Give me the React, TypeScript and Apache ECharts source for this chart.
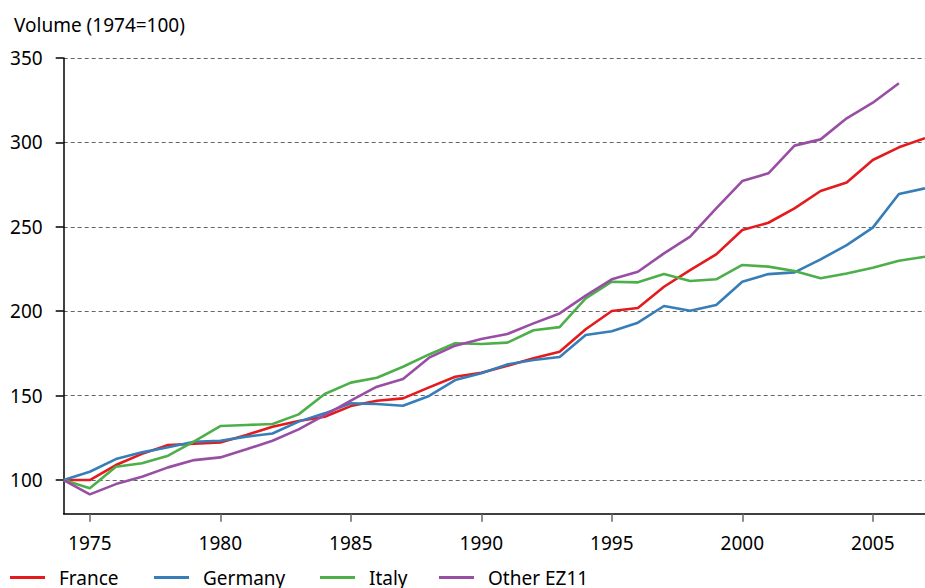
import React, { useEffect, useRef } from "react";
import * as echarts from "echarts";

const years: number[] = [
  1974, 1975, 1976, 1977, 1978, 1979, 1980, 1981, 1982, 1983, 1984, 1985,
  1986, 1987, 1988, 1989, 1990, 1991, 1992, 1993, 1994, 1995, 1996, 1997,
  1998, 1999, 2000, 2001, 2002, 2003, 2004, 2005, 2006, 2007,
];

const france: number[] = [
  100, 100, 108.9, 115.5, 120.7, 121.5, 122.3, 126.7, 131.6, 135, 137.5, 143.8,
  147, 148.4, 154.9, 161.2, 163.6, 167.7, 172.1, 176, 189.3, 200.1, 201.9, 214.5,
  224.4, 233.7, 248.1, 252.4, 260.9, 271.2, 276.3, 289.6, 297.1, 302.5,
];

const germany: number[] = [
  100, 104.9, 112.4, 116.4, 119.4, 122.7, 123.3, 125.7, 127.6, 134.6, 139.5, 145.4,
  145, 144, 149.8, 159.2, 163.2, 168.5, 171.1, 172.9, 185.9, 188.1, 193.2, 203.1,
  200.3, 203.7, 217.5, 222, 223, 230.7, 239.2, 249.5, 269.4, 272.8,
];

const italy: number[] = [
  100, 95.1, 107.9, 109.9, 114.4, 122.9, 132, 132.6, 133.2, 138.9, 151, 157.7,
  160.6, 167.1, 174.4, 181, 180.6, 181.4, 188.7, 190.6, 207.6, 217.5, 217.1, 222,
  217.9, 218.9, 227.4, 226.4, 223.8, 219.5, 222.4, 225.8, 229.9, 232.3,
];

const otherEZ11: number[] = [
  100, 91.5, 97.6, 102, 107.5, 111.8, 113.4, 118.2, 123.3, 130, 138.5, 147,
  155.3, 159.8, 172.5, 179.6, 183.5, 186.5, 192.8, 198.7, 209.2, 218.9, 223.4, 234.3,
  244.2, 260.9, 277.1, 281.7, 298.1, 301.8, 314.3, 323.5, 335,
];

const xTickValues: number[] = [1975, 1980, 1985, 1990, 1995, 2000, 2005];
const yTickValues: number[] = [100, 150, 200, 250, 300, 350];

const seriesNames: string[] = ["France", "Germany", "Italy", "Other EZ11"];
const seriesColors: string[] = ["#e41a1c", "#377eb8", "#4daf4a", "#984ea3"];
const seriesValues: number[][] = [france, germany, italy, otherEZ11];
const legendLefts: number[] = [5, 149, 315, 434];

const FONT = "'Noto Sans', 'Open Sans', sans-serif";
const FS = 19;

export default function App() {
  const ref = useRef<HTMLDivElement>(null);

  useEffect(() => {
    if (!ref.current) return;
    const chart = echarts.init(ref.current, undefined, { renderer: "svg" });

    const series = seriesNames.map((name, i) => ({
      name,
      type: "line" as const,
      data: seriesValues[i].map((v, j) => [years[j], v]),
      showSymbol: false,
      symbol: "none",
      clip: true,
      lineStyle: { color: seriesColors[i], width: 2.6 },
      itemStyle: { color: seriesColors[i] },
    }));

    const legends = seriesNames.map((name, i) => ({
      data: [name],
      left: legendLefts[i],
      top: 561,
      icon: "rect",
      itemWidth: 35,
      itemHeight: 3,
      textStyle: {
        fontFamily: FONT,
        fontSize: FS,
        lineHeight: 19,
        color: "#000",
        padding: [0, 0, 4, 9],
      },
      selectedMode: false,
    }));

    chart.setOption({
      animation: false,
      backgroundColor: "#fff",
      textStyle: { fontFamily: FONT },
      title: {
        text: "Volume (1974=100)",
        left: 9,
        top: 10,
        textStyle: { fontFamily: FONT, fontSize: FS, fontWeight: "normal", color: "#000" },
      },
      legend: legends,
      grid: { left: 63.7, right: -5.7, top: 58, bottom: 74.2, containLabel: false },
      xAxis: {
        type: "value",
        min: 1974,
        max: 2007,
        axisLine: { show: true, onZero: false, lineStyle: { color: "#000", width: 1.5 } },
        axisTick: { show: true, length: 8, customValues: xTickValues, lineStyle: { color: "#666", width: 1.5 } },
        axisLabel: {
          customValues: xTickValues,
          margin: 20,
          fontSize: FS,
          fontFamily: FONT,
          color: "#000",
          formatter: (v: number) => String(v),
        },
        splitLine: { show: false },
      },
      yAxis: {
        type: "value",
        min: 80,
        max: 350,
        axisLine: { show: true, onZero: false, lineStyle: { color: "#000", width: 1.5 } },
        axisTick: { show: true, length: 8, customValues: yTickValues, lineStyle: { color: "#000", width: 1.5 } },
        axisLabel: {
          customValues: yTickValues,
          margin: 21,
          fontSize: FS,
          fontFamily: FONT,
          color: "#000",
        },
        splitLine: { show: true, lineStyle: { color: "#666", width: 1, type: [4, 3] } },
      },
      series,
    });

    return () => chart.dispose();
  }, []);

  return (
    <div
      ref={ref}
      style={{ position: "fixed", left: 0, top: 0, width: 925, height: 588 }}
    />
  );
}
